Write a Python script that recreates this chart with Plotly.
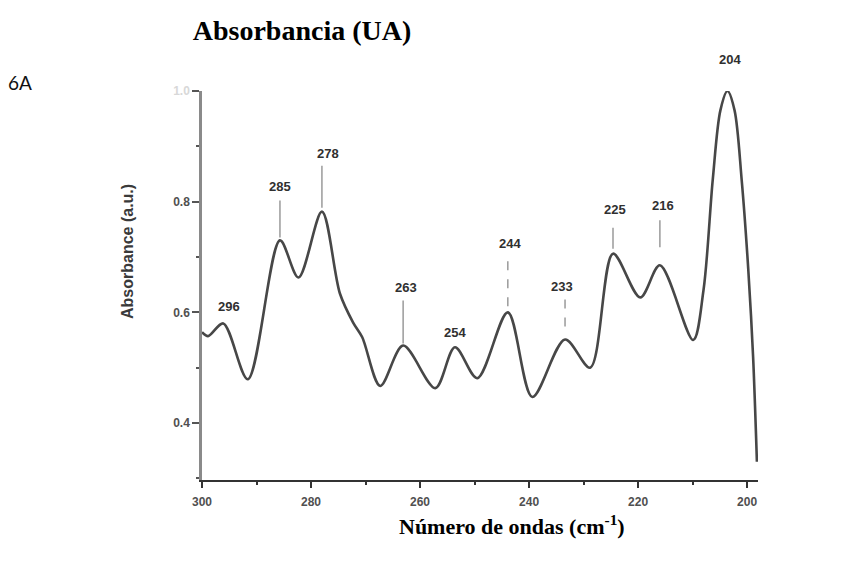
import plotly.graph_objects as go

# ---- data ----
wavenumber = [300.0, 298.9, 296.1, 291.6, 285.7, 282.3, 278.0, 274.7, 272.3, 270.6,
              267.3, 263.1, 257.2, 253.6, 249.5, 243.9, 239.4, 233.4, 228.8, 224.6,
              219.6, 216.0, 209.9, 208.0, 206.3, 204.9, 203.6, 202.3, 201.0, 199.8,
              198.9, 198.2]
absorbance = [0.564, 0.557, 0.580, 0.479, 0.730, 0.663, 0.782, 0.634, 0.582, 0.555,
              0.467, 0.540, 0.463, 0.537, 0.481, 0.600, 0.447, 0.551, 0.500, 0.706,
              0.627, 0.685, 0.550, 0.640, 0.840, 0.965, 1.000, 0.965, 0.840, 0.680,
              0.520, 0.330]

peak_labels = ["296", "285", "278", "263", "254", "244", "233", "225", "216", "204"]
peak_x = [296.1, 285.7, 278.0, 263.1, 253.6, 243.9, 233.4, 224.6, 216.0, 203.6]
peak_y = [0.580, 0.730, 0.782, 0.540, 0.537, 0.600, 0.551, 0.706, 0.685, 1.000]

x_ticks = [300, 280, 260, 240, 220, 200]
y_ticks = [0.4, 0.6, 0.8, 1.0]
y_ticktext = ["0.4", "0.6", "0.8", "<span style='color:#d8d8d8'>1.0</span>"]

# ---- styling of the peak labels (pixel offsets) ----
label_dx = [6, 0, 6, 3, 0, 2, -3, 2, 3, 3]
label_dy = [17, 54, 58, 58, 15, 69, 53, 44, 60, 32]
leader = [None, (3, 40), (4, 46), (2, 45), None, (6, 57), (13, 40), (5, 26), (18, 45), None]
leader_dash = ["solid", "solid", "solid", "solid", "solid", "dash", "dash", "solid", "solid", "solid"]

fig = go.Figure()
fig.add_trace(go.Scatter(
    x=wavenumber, y=absorbance, mode="lines",
    line=dict(color="#474747", width=2.6, shape="spline", smoothing=0.9),
    cliponaxis=False, showlegend=False, hoverinfo="skip"))

annotations = []
shapes = []
for lab, px, py, dx, dy, ld, dash in zip(peak_labels, peak_x, peak_y, label_dx,
                                         label_dy, leader, leader_dash):
    annotations.append(dict(
        x=px, y=py, xref="x", yref="y", text=lab, showarrow=False,
        xshift=dx, yshift=dy, xanchor="center", yanchor="middle",
        font=dict(family="Liberation Sans", size=13, color="#303030", weight="bold")))
    if ld is not None:
        shapes.append(dict(
            type="line", xref="x", yref="y", xsizemode="pixel", ysizemode="pixel",
            xanchor=px, yanchor=py, x0=0, x1=0, y0=ld[0], y1=ld[1],
            line=dict(color="#a0a0a0", width=1.6, dash=dash)))

# outer texts
annotations.append(dict(
    x=(20 - 202) / 556, y=(480 - 82) / 389, xref="paper", yref="paper",
    text="6A", showarrow=False, xanchor="center", yanchor="middle",
    font=dict(family="Lato", size=19, color="#111111")))
annotations.append(dict(
    x=(512 - 202) / 556, y=(480 - 525) / 389, xref="paper", yref="paper",
    text="Número de ondas (cm<sup>-1</sup>)", showarrow=False,
    xanchor="center", yanchor="middle",
    font=dict(family="Liberation Serif", size=22, color="#000000", weight="bold")))
annotations.append(dict(
    x=(127 - 202) / 556, y=(480 - 252) / 389, xref="paper", yref="paper",
    text="Absorbance (a.u.)", showarrow=False, textangle=-90,
    xanchor="center", yanchor="middle",
    font=dict(family="Liberation Sans", size=16, color="#3a3a3a", weight="bold")))

fig.update_layout(
    width=856, height=577,
    margin=dict(l=202, r=98, t=91, b=97),
    paper_bgcolor="white", plot_bgcolor="white",
    title=dict(text="Absorbancia (UA)", x=302 / 856, y=1 - 30 / 577,
               xanchor="center", yanchor="middle",
               font=dict(family="Liberation Serif", size=28, color="#000000", weight="bold")),
    annotations=annotations, shapes=shapes,
    xaxis=dict(range=[300, 198.0], tickvals=x_ticks, ticks="outside", ticklen=6,
               tickwidth=2, tickcolor="#333333", showline=True, linecolor="#333333",
               linewidth=2, showgrid=False, zeroline=False, ticklabelstandoff=4,
               minor=dict(dtick=10, tick0=0, ticks="outside", ticklen=3,
                          tickwidth=2, tickcolor="#333333"),
               tickfont=dict(family="Liberation Sans", size=12, color="#505050", weight="bold")),
    yaxis=dict(range=[0.297, 1.0], tickvals=y_ticks, ticktext=y_ticktext,
               ticks="outside", ticklen=7, tickwidth=2, tickcolor="#555555",
               showline=True, linecolor="#8a8a8a", linewidth=2.5,
               showgrid=False, zeroline=False,
               minor=dict(dtick=0.1, tick0=0, ticks="outside", ticklen=3,
                          tickwidth=2, tickcolor="#555555"),
               tickfont=dict(family="Liberation Sans", size=12, color="#505050", weight="bold")),
)

fig.write_html("out.html")
